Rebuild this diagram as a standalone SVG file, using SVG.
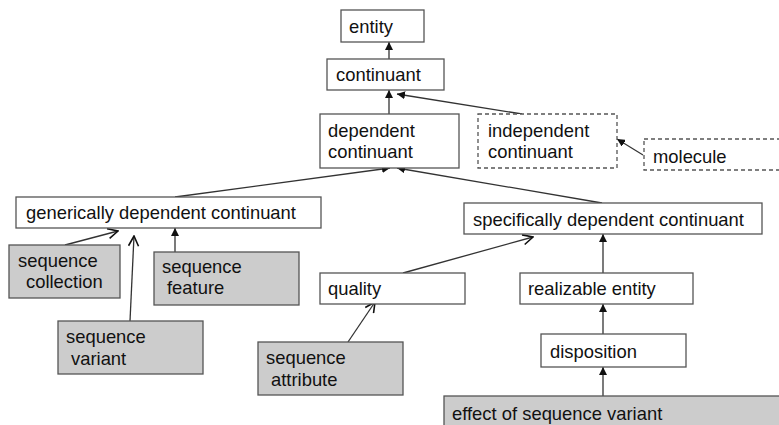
<svg xmlns="http://www.w3.org/2000/svg" width="779" height="425" viewBox="0 0 779 425">
<defs>
<style>
.box{fill:#ffffff;stroke:#555555;stroke-width:1.3}
.gray{fill:#cccccc;stroke:#555555;stroke-width:1.3}
.dash{fill:#ffffff;stroke:#555555;stroke-width:1.3;stroke-dasharray:4 3}
text{font-family:"Liberation Sans",Arial,sans-serif;font-size:18.4px;fill:#111111}
.edge{stroke:#333333;stroke-width:1.3;fill:none}
.f{marker-end:url(#fill)}
.o{marker-end:url(#open)}
</style>
<marker id="fill" viewBox="0 0 8 8" refX="8" refY="4" markerWidth="8" markerHeight="8" markerUnits="userSpaceOnUse" orient="auto">
<path d="M0,0 L8,4 L0,8 z" fill="#111111"/>
</marker>
<marker id="open" viewBox="0 0 12 12" refX="11" refY="6" markerWidth="12" markerHeight="12" markerUnits="userSpaceOnUse" orient="auto">
<path d="M1,1 L11,6 L1,11" fill="none" stroke="#111111" stroke-width="1.6"/>
</marker>
</defs>
<rect width="779" height="425" fill="#ffffff"/>
<g id="connectors">
<line class="edge f" x1="389" y1="59" x2="389" y2="42"/>
<line class="edge f" x1="389" y1="114" x2="389" y2="90"/>
<line class="edge f" x1="522" y1="114" x2="397" y2="94"/>
<line class="edge f" x1="643" y1="155" x2="617" y2="139"/>
<line class="edge f" x1="175" y1="197" x2="390" y2="168"/>
<line class="edge f" x1="602" y1="203" x2="397" y2="168"/>
<line class="edge o" x1="65" y1="245" x2="118" y2="231"/>
<line class="edge o" x1="130" y1="321" x2="134" y2="236"/>
<line class="edge f" x1="175" y1="252" x2="175" y2="228"/>
<line class="edge o" x1="403" y1="273" x2="533" y2="237"/>
<line class="edge f" x1="603" y1="273" x2="603" y2="234"/>
<line class="edge o" x1="348" y1="342" x2="375" y2="302"/>
<line class="edge f" x1="603" y1="334" x2="603" y2="304"/>
<line class="edge f" x1="603" y1="396" x2="603" y2="367"/>
</g>
<g id="entity"><rect class="box" x="341" y="10" width="83" height="32"/><text x="349" y="33">entity</text></g>
<g id="continuant"><rect class="box" x="327" y="59" width="117" height="31"/><text x="336" y="81">continuant</text></g>
<g id="dependent-continuant"><rect class="box" x="320" y="114" width="139" height="54"/><text x="328" y="137">dependent</text><text x="328" y="158">continuant</text></g>
<g id="independent-continuant"><rect class="dash" x="478" y="114" width="139" height="54"/><text x="488" y="137">independent</text><text x="488" y="158">continuant</text></g>
<g id="molecule"><rect class="dash" x="644" y="139" width="140" height="31"/><text x="653" y="163">molecule</text></g>
<g id="generically-dependent-continuant"><rect class="box" x="16" y="197" width="305" height="31"/><text x="26" y="219">generically dependent continuant</text></g>
<g id="specifically-dependent-continuant"><rect class="box" x="464" y="203" width="298" height="31"/><text x="473" y="226">specifically dependent continuant</text></g>
<g id="sequence-collection"><rect class="gray" x="9" y="245" width="111" height="53"/><text x="18" y="267">sequence</text><text x="26" y="288">collection</text></g>
<g id="sequence-feature"><rect class="gray" x="154" y="252" width="145" height="53"/><text x="162" y="273">sequence</text><text x="167" y="294">feature</text></g>
<g id="sequence-variant"><rect class="gray" x="58" y="321" width="145" height="53"/><text x="66" y="343">sequence</text><text x="71" y="365">variant</text></g>
<g id="quality"><rect class="box" x="320" y="273" width="145" height="31"/><text x="328" y="295">quality</text></g>
<g id="realizable-entity"><rect class="box" x="520" y="273" width="173" height="31"/><text x="528" y="295">realizable entity</text></g>
<g id="sequence-attribute"><rect class="gray" x="258" y="342" width="145" height="53"/><text x="266" y="364">sequence</text><text x="271" y="386">attribute</text></g>
<g id="disposition"><rect class="box" x="541" y="334" width="145" height="33"/><text x="550" y="358">disposition</text></g>
<g id="effect-of-sequence-variant"><rect class="gray" x="444" y="396" width="345" height="40"/><text x="452" y="420">effect of sequence variant</text></g>
</svg>
